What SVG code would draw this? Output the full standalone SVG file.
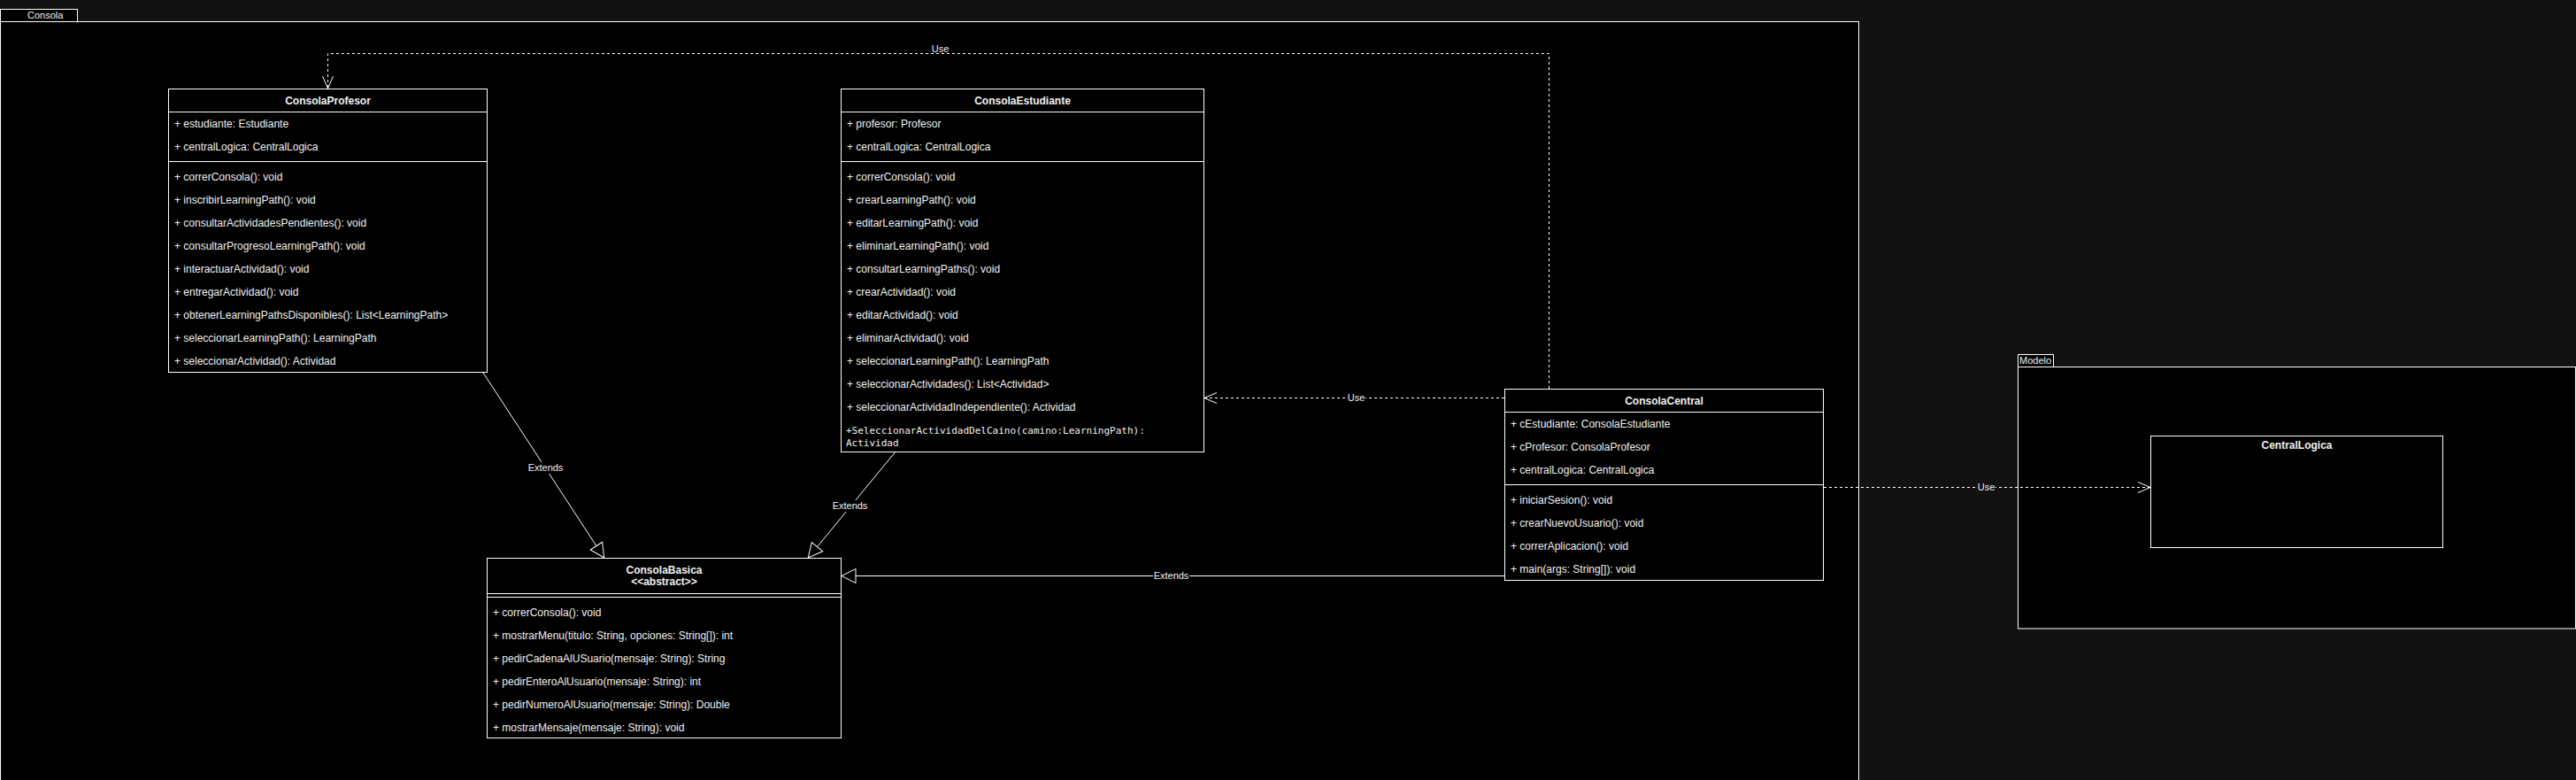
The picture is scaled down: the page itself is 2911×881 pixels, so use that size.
<svg xmlns="http://www.w3.org/2000/svg" width="2911" height="881" viewBox="0 0 2911 881">
<style>
.pkg{fill:#000;stroke:#fff;stroke-width:1}
.box{fill:#000;stroke:#fff;stroke-width:1}
.sep{stroke:#fff;stroke-width:1;fill:none}
.t{font-family:"Liberation Sans",Arial,sans-serif;font-size:12px;fill:#f0f0f0}
.h{font-family:"Liberation Sans",Arial,sans-serif;font-size:12px;font-weight:bold;fill:#f0f0f0;text-anchor:middle}
.mono{font-family:"DejaVu Sans Mono","Liberation Mono",monospace;font-size:11px;fill:#f0f0f0}
.pl{font-family:"Liberation Sans",Arial,sans-serif;font-size:11px;fill:#f0f0f0}
.lbl{font-family:"Liberation Sans",Arial,sans-serif;font-size:11px;fill:#f0f0f0;text-anchor:middle}
.solid{stroke:#fff;stroke-width:1;fill:none}
.dash{stroke:#fff;stroke-width:1;fill:none;stroke-dasharray:3 3}
</style>
<defs>
<marker id="tri" markerUnits="userSpaceOnUse" viewBox="-17 -9 18 18" refX="0" refY="0" markerWidth="18" markerHeight="18" orient="auto">
<path d="M-16,-8 L0,0 L-16,8 Z" fill="#000" stroke="#fff" stroke-width="1"/>
</marker>
<marker id="open" markerUnits="userSpaceOnUse" viewBox="-15 -8 16 16" refX="0" refY="0" markerWidth="16" markerHeight="16" orient="auto">
<path d="M-14,-6 L0,0 L-14,6" fill="none" stroke="#fff" stroke-width="1"/>
</marker>
</defs>
<rect x="0" y="0" width="2911" height="881" fill="#121212"/>

<g id="pkg-consola">
<rect class="pkg" x="0.5" y="10.5" width="87" height="14"/>
<rect class="pkg" x="0.5" y="24.5" width="2100" height="900"/>
<text class="pl" x="31" y="21">Consola</text>
</g>
<g id="pkg-modelo">
<rect class="pkg" x="2280.5" y="400.5" width="40" height="14"/>
<rect class="pkg" x="2280.5" y="414.5" width="630" height="295.5"/>
<text class="pl" x="2282" y="411">Modelo</text>
</g>

<g id="ConsolaProfesor">
<rect class="box" x="190.5" y="100.5" width="360" height="320"/>
<line class="sep" x1="190.5" y1="126.5" x2="550.5" y2="126.5"/>
<line class="sep" x1="190.5" y1="182.5" x2="550.5" y2="182.5"/>
<text class="h" x="370.5" y="118">ConsolaProfesor</text>
<text class="t" x="197" y="144">+ estudiante: Estudiante</text>
<text class="t" x="197" y="170">+ centralLogica: CentralLogica</text>
<text class="t" x="197" y="204">+ correrConsola(): void</text>
<text class="t" x="197" y="230">+ inscribirLearningPath(): void</text>
<text class="t" x="197" y="256">+ consultarActividadesPendientes(): void</text>
<text class="t" x="197" y="282">+ consultarProgresoLearningPath(): void</text>
<text class="t" x="197" y="308">+ interactuarActividad(): void</text>
<text class="t" x="197" y="334">+ entregarActividad(): void</text>
<text class="t" x="197" y="360">+ obtenerLearningPathsDisponibles(): List&lt;LearningPath&gt;</text>
<text class="t" x="197" y="386">+ seleccionarLearningPath(): LearningPath</text>
<text class="t" x="197" y="412">+ seleccionarActividad(): Actividad</text>
</g>

<g id="ConsolaEstudiante">
<rect class="box" x="950.5" y="100.5" width="410" height="410"/>
<line class="sep" x1="950.5" y1="126.5" x2="1360.5" y2="126.5"/>
<line class="sep" x1="950.5" y1="182.5" x2="1360.5" y2="182.5"/>
<text class="h" x="1155.5" y="118">ConsolaEstudiante</text>
<text class="t" x="957" y="144">+ profesor: Profesor</text>
<text class="t" x="957" y="170">+ centralLogica: CentralLogica</text>
<text class="t" x="957" y="204">+ correrConsola(): void</text>
<text class="t" x="957" y="230">+ crearLearningPath(): void</text>
<text class="t" x="957" y="256">+ editarLearningPath(): void</text>
<text class="t" x="957" y="282">+ eliminarLearningPath(): void</text>
<text class="t" x="957" y="308">+ consultarLearningPaths(): void</text>
<text class="t" x="957" y="334">+ crearActividad(): void</text>
<text class="t" x="957" y="360">+ editarActividad(): void</text>
<text class="t" x="957" y="386">+ eliminarActividad(): void</text>
<text class="t" x="957" y="412">+ seleccionarLearningPath(): LearningPath</text>
<text class="t" x="957" y="438">+ seleccionarActividades(): List&lt;Actividad&gt;</text>
<text class="t" x="957" y="464">+ seleccionarActividadIndependiente(): Actividad</text>
<text class="mono" x="956" y="490">+SeleccionarActividadDelCaino(camino:LearningPath):</text>
<text class="mono" x="956" y="504">Actividad</text>
</g>

<g id="ConsolaBasica">
<rect class="box" x="550.5" y="630.5" width="400" height="203"/>
<line class="sep" x1="550.5" y1="670.5" x2="950.5" y2="670.5"/>
<line class="sep" x1="550.5" y1="674.5" x2="950.5" y2="674.5"/>
<text class="h" x="750.5" y="648">ConsolaBasica</text>
<text class="h" x="750.5" y="661">&lt;&lt;abstract&gt;&gt;</text>
<text class="t" x="557" y="696">+ correrConsola(): void</text>
<text class="t" x="557" y="722">+ mostrarMenu(titulo: String, opciones: String[]): int</text>
<text class="t" x="557" y="748">+ pedirCadenaAlUSuario(mensaje: String): String</text>
<text class="t" x="557" y="774">+ pedirEnteroAlUsuario(mensaje: String): int</text>
<text class="t" x="557" y="800">+ pedirNumeroAlUsuario(mensaje: String): Double</text>
<text class="t" x="557" y="826">+ mostrarMensaje(mensaje: String): void</text>
</g>

<g id="ConsolaCentral">
<rect class="box" x="1700.5" y="439.5" width="360" height="216"/>
<line class="sep" x1="1700.5" y1="465.5" x2="2060.5" y2="465.5"/>
<line class="sep" x1="1700.5" y1="547.5" x2="2060.5" y2="547.5"/>
<text class="h" x="1880.5" y="457">ConsolaCentral</text>
<text class="t" x="1707" y="483">+ cEstudiante: ConsolaEstudiante</text>
<text class="t" x="1707" y="509">+ cProfesor: ConsolaProfesor</text>
<text class="t" x="1707" y="535">+ centralLogica: CentralLogica</text>
<text class="t" x="1707" y="569">+ iniciarSesion(): void</text>
<text class="t" x="1707" y="595">+ crearNuevoUsuario(): void</text>
<text class="t" x="1707" y="621">+ correrAplicacion(): void</text>
<text class="t" x="1707" y="647">+ main(args: String[]): void</text>
</g>

<g id="CentralLogica">
<rect class="box" x="2430.5" y="492.5" width="330" height="126"/>
<text class="h" x="2595.5" y="507">CentralLogica</text>
</g>

<g id="connectors">
<path class="dash" d="M1750.5,439 V60.5 H370.5 V100" marker-end="url(#open)"/>
<rect x="1052" y="48" width="21" height="12" fill="#000"/>
<text class="lbl" x="1062.5" y="59">Use</text>

<path class="dash" d="M1700,449.5 H1361" marker-end="url(#open)"/>
<rect x="1522" y="443" width="21" height="13" fill="#000"/>
<text class="lbl" x="1532.5" y="453">Use</text>

<path class="dash" d="M2061,550.5 H2430" marker-end="url(#open)"/>
<rect x="2234" y="544" width="21" height="13" fill="#121212"/>
<text class="lbl" x="2244.5" y="554">Use</text>

<path class="solid" d="M545.7,420.5 L682.7,630" marker-end="url(#tri)"/>
<rect x="596" y="522" width="41" height="13" fill="#000"/>
<text class="lbl" x="616.5" y="532">Extends</text>

<path class="solid" d="M1011.7,510.5 L913.3,630" marker-end="url(#tri)"/>
<rect x="940" y="565" width="41" height="13" fill="#000"/>
<text class="lbl" x="960.5" y="575">Extends</text>

<path class="solid" d="M1700,650.5 H951" marker-end="url(#tri)"/>
<rect x="1303" y="644" width="41" height="13" fill="#000"/>
<text class="lbl" x="1323.5" y="654">Extends</text>
</g>
</svg>
